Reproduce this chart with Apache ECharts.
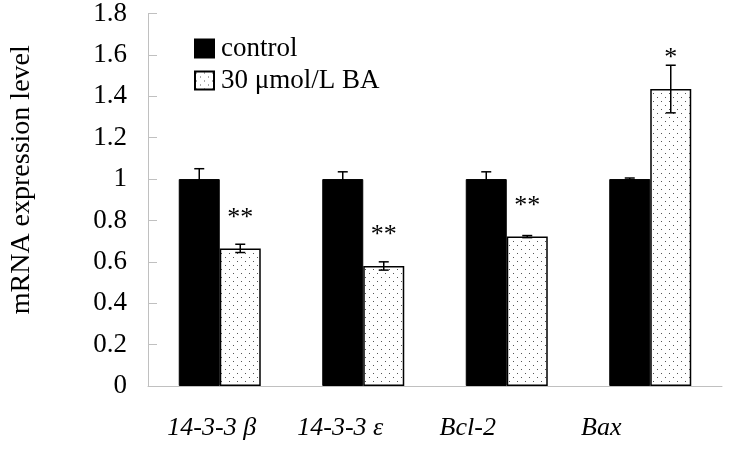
<!DOCTYPE html>
<html><head><meta charset="utf-8">
<script src="https://cdn.jsdelivr.net/npm/echarts@6/dist/echarts.min.js"></script>
<style>html,body{margin:0;padding:0;background:#fff}#c{width:729px;height:450px}</style>
</head><body><div id="c"></div>
<script>
const categories = ['14-3-3 \u03b2', '14-3-3 \u03b5', 'Bcl-2', 'Bax'];
const seriesNames = ['control', '30 \u03bcmol/L BA'];
const controlMean = [1.0, 1.0, 1.0, 1.0];
const controlErr = [0.05, 0.035, 0.035, 0.005];
const baMean = [0.665, 0.58, 0.722, 1.435];
const baErr = [0.02, 0.02, 0.005, 0.115];
const baSig = ['**', '**', '**', '*'];
const yTicks = [0, 0.2, 0.4, 0.6, 0.8, 1, 1.2, 1.4, 1.6, 1.8];

const FONT = '"Liberation Serif","Times New Roman",serif';
const BAR_W = 41;
// label left shifts (px) as in the reference layout
const labelShift = [8, 23, 39, 49];

function dotPattern() {
  const c = document.createElement('canvas');
  c.width = 8; c.height = 8;
  const g = c.getContext('2d');
  g.fillStyle = '#fff'; g.fillRect(0, 0, 8, 8);
  g.fillStyle = '#555';
  g.fillRect(1, 1, 1, 1);
  g.fillRect(5, 5, 1, 1);
  return c;
}
const pattern = { image: dotPattern(), repeat: 'repeat' };

function errData(means, errs) {
  return means.map((m, i) => [i, m, errs[i]]);
}
function errRender(offset) {
  return function (params, api) {
    const i = api.value(0), m = api.value(1), e = api.value(2);
    const top = api.coord([i, m + e]);
    const bot = api.coord([i, m - e]);
    const x = top[0] + offset;
    const cap = 5;
    return {
      type: 'group',
      children: [
        { type: 'line', shape: { x1: x, y1: top[1], x2: x, y2: bot[1] }, style: { stroke: '#000', lineWidth: 1.5 } },
        { type: 'line', shape: { x1: x - cap, y1: top[1], x2: x + cap, y2: top[1] }, style: { stroke: '#000', lineWidth: 1.5 } },
        { type: 'line', shape: { x1: x - cap, y1: bot[1], x2: x + cap, y2: bot[1] }, style: { stroke: '#000', lineWidth: 1.5 } }
      ]
    };
  };
}
const sigData = baMean.map((m, i) => [i, m, baSig[i]]);

const rich = {};
labelShift.forEach((s, i) => {
  rich['c' + i] = { fontFamily: FONT, fontSize: 26, fontStyle: 'italic', color: '#000', padding: [0, 2 * s, 0, 0] };
});

const chart = echarts.init(document.getElementById('c'), null, { renderer: 'canvas' });
chart.setOption({
  animation: false,
  grid: { left: 147, right: 7, top: 13, bottom: 64 },
  legend: {
    left: 189, top: 30, orient: 'vertical', icon: 'rect',
    itemWidth: 19, itemHeight: 18, itemGap: 5,
    data: seriesNames,
    textStyle: { fontFamily: FONT, fontSize: 27, color: '#000', padding: [0, 0, 0, 2] }
  },
  xAxis: {
    type: 'category', data: categories,
    axisLine: { lineStyle: { color: '#c0c0c0', width: 1 } },
    axisTick: { show: false },
    axisLabel: {
      interval: 0, hideOverlap: false,
      fontFamily: FONT, fontSize: 26, fontStyle: 'italic', color: '#000', margin: 29,
      formatter: (v, i) => '{c' + i + '|' + v + '}', rich: rich
    }
  },
  yAxis: {
    type: 'value', min: 0, max: 1.8, interval: 0.2,
    name: 'mRNA expression level', nameLocation: 'middle', nameGap: 112, nameRotate: 90,
    nameTextStyle: { fontFamily: FONT, fontSize: 28, color: '#000', padding: [0, 0, 0, 40] },
    axisLine: { show: true, lineStyle: { color: '#c0c0c0', width: 1 } },
    axisTick: { show: true, inside: true, length: 9, lineStyle: { color: '#c0c0c0' } },
    splitLine: { show: false },
    axisLabel: {
      fontFamily: FONT, fontSize: 27, color: '#000', margin: 21,
      formatter: v => { const t = yTicks.find(k => Math.abs(k - v) < 1e-6); return t === undefined ? '' : String(t); }
    }
  },
  series: [
    { name: seriesNames[0], type: 'bar', data: controlMean, barWidth: BAR_W, barGap: '0%',
      itemStyle: { color: '#000', borderColor: '#000', borderWidth: 1 } },
    { name: seriesNames[1], type: 'bar', data: baMean, barWidth: BAR_W, barGap: '0%',
      itemStyle: { color: pattern, borderColor: '#000', borderWidth: 1.5 } },
    { type: 'custom', data: errData(controlMean, controlErr), renderItem: errRender(-BAR_W / 2), z: 5, silent: true },
    { type: 'custom', data: errData(baMean, baErr), renderItem: errRender(BAR_W / 2), z: 5, silent: true },
    { type: 'custom', data: sigData, z: 6, silent: true,
      renderItem: function (params, api) {
        const i = api.value(0), m = api.value(1);
        const p = api.coord([i, m + 0.157]);
        return { type: 'text', x: p[0] + BAR_W / 2, y: p[1] + 2,
          style: { text: baSig[params.dataIndex], font: '26px ' + FONT, fill: '#000', align: 'center', verticalAlign: 'middle' } };
      } }
  ]
});
</script></body></html>
